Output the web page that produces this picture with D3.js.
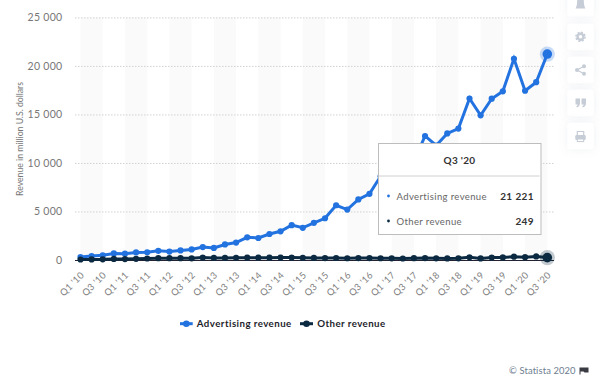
<!DOCTYPE html>
<html><head><meta charset="utf-8">
<script src="https://cdnjs.cloudflare.com/ajax/libs/d3/7.8.5/d3.min.js"></script>
<style>html,body{margin:0;padding:0;background:#fff;overflow:hidden}svg{display:block}text{font-family:Lato,"Open Sans",sans-serif}</style>
</head><body><svg id="c" width="600" height="378"></svg>
<script>
const quarters = ["Q1 '10","Q2 '10","Q3 '10","Q4 '10","Q1 '11","Q2 '11","Q3 '11","Q4 '11","Q1 '12","Q2 '12","Q3 '12","Q4 '12","Q1 '13","Q2 '13","Q3 '13","Q4 '13","Q1 '14","Q2 '14","Q3 '14","Q4 '14","Q1 '15","Q2 '15","Q3 '15","Q4 '15","Q1 '16","Q2 '16","Q3 '16","Q4 '16","Q1 '17","Q2 '17","Q3 '17","Q4 '17","Q1 '18","Q2 '18","Q3 '18","Q4 '18","Q1 '19","Q2 '19","Q3 '19","Q4 '19","Q1 '20","Q2 '20","Q3 '20"];
const advertising = [300,400,480,680,650,780,800,950,870,990,1090,1330,1245,1600,1800,2340,2265,2680,2960,3590,3320,3830,4300,5640,5200,6240,6820,8630,7860,9160,10140,12780,11800,13040,13540,16640,14910,16620,17380,20740,17440,18320,21221];
const other = [50,60,70,110,95,120,155,190,185,190,175,255,215,215,220,240,235,235,245,255,225,215,200,205,180,195,195,180,175,155,185,195,170,160,175,275,165,260,270,345,295,365,249];
const yTicks = [0,5000,10000,15000,20000,25000];
const seriesNames = ["Advertising revenue","Other revenue"];
const colors = ["#2272e0","#0b2a42"];
const tipTitle = "Q3 '20";
const tipValues = ["21 221","249"];

const svg = d3.select("#c");
const x = d3.scalePoint().domain(quarters).range([80.5,547.3]);
const y = d3.scaleLinear().domain([0,25000]).range([260,17.4]);
const fmt = v => d3.format(",")(v).replace(/,/g," ");

// alternating bands
const bands = svg.append("g");
quarters.forEach((q,i)=>{ if(i%4===0 && i+2<quarters.length){
  bands.append("rect").attr("x",x(q)).attr("y",17.4).attr("width",x(quarters[i+2])-x(q)).attr("height",242.6).attr("fill","#fafafa");
}});
// grid
const gy = svg.append("g").attr("transform","translate(75,0)")
  .call(d3.axisLeft(y).tickValues(yTicks).tickSize(-479).tickPadding(12).tickFormat(fmt));
gy.select(".domain").remove();
gy.selectAll(".tick line").attr("stroke","#d2d2d2").attr("stroke-dasharray","1.5,1.5").attr("stroke-width",1);
gy.select(".tick line").attr("stroke","#223").attr("stroke-dasharray",null);
gy.selectAll(".tick text").attr("fill","#777").attr("font-size",10.5).attr("letter-spacing",0.3).attr("x",-12.5);

// x axis
const gx = svg.append("g").attr("transform","translate(0,260)")
  .call(d3.axisBottom(x).tickValues(quarters.filter((q,i)=>i%2===0)).tickSize(0));
gx.select(".domain").remove();
gx.selectAll(".tick text").attr("fill","#808080").attr("font-size",9.3).attr("letter-spacing",0.3)
  .attr("text-anchor","end").attr("dy",0).attr("dx",0).attr("y",0).attr("x",0)
  .attr("transform","translate(2,14) rotate(-45)").attr("dominant-baseline","middle");

// y title
svg.append("text").attr("transform","translate(22.5,139) rotate(-90)").attr("text-anchor","middle")
  .attr("font-size",8.7).attr("fill","#777").text("Revenue in million U.S. dollars");

const line = d3.line().x((d,i)=>x(quarters[i])).y(d=>y(d));
[advertising,other].forEach((s,k)=>{
  const g = svg.append("g");
  g.append("path").attr("d",line(s)).attr("fill","none").attr("stroke",colors[k]).attr("stroke-width",3);
  g.selectAll("circle").data(s).join("circle").attr("cx",(d,i)=>x(quarters[i])).attr("cy",d=>y(d)).attr("r",3.1).attr("fill",colors[k]);
  const last = s.length-1;
  g.append("circle").attr("cx",x(quarters[last])).attr("cy",y(s[last])).attr("r",7.6).attr("fill",colors[k]).attr("opacity",0.25);
  g.append("circle").attr("cx",x(quarters[last])).attr("cy",y(s[last])).attr("r",4.8).attr("fill",colors[k]);
});

// legend
const legendX = [[180,192.7,196.8],[300,313,317.2]];
seriesNames.forEach((n,k)=>{
  const g = svg.append("g");
  g.append("line").attr("x1",legendX[k][0]).attr("x2",legendX[k][1]).attr("y1",323.7).attr("y2",323.7).attr("stroke",colors[k]).attr("stroke-width",3);
  g.append("circle").attr("cx",(legendX[k][0]+legendX[k][1])/2).attr("cy",323.7).attr("r",3.3).attr("fill",colors[k]);
  g.append("text").attr("x",legendX[k][2]).attr("y",327).attr("font-size",9.7).attr("font-weight",700).attr("letter-spacing",0.45).attr("fill","#1d1d2b").text(n);
});

// tooltip
const tip = svg.append("g").attr("transform","translate(378.5,143.5)");
tip.append("rect").attr("width",162.5).attr("height",91).attr("fill","#fff").attr("stroke","#bdbdbd");
tip.append("line").attr("x1",0.5).attr("x2",161).attr("y1",32.5).attr("y2",32.5).attr("stroke","#d0d0d0");
tip.append("text").attr("x",81).attr("y",20).attr("text-anchor","middle").attr("font-size",10).attr("font-weight",700).attr("letter-spacing",0.3).attr("fill","#333").text(tipTitle);
seriesNames.forEach((n,k)=>{
  const yy = 53+k*25;
  tip.append("circle").attr("cx",10).attr("cy",yy-0.5).attr("r",1.4).attr("fill",colors[k]);
  tip.append("text").attr("x",18).attr("y",yy+3).attr("font-size",9.5).attr("letter-spacing",0.38).attr("fill","#666").text(n);
  tip.append("text").attr("x",155.5).attr("y",yy+3).attr("text-anchor","end").attr("font-size",10).attr("font-weight",700).attr("letter-spacing",0.4).attr("fill","#333").text(tipValues[k]);
});

// side buttons
const defs = svg.append("defs");
const f = defs.append("filter").attr("id","sh").attr("x","-60%").attr("y","-60%").attr("width","220%").attr("height","220%");
f.append("feDropShadow").attr("dx",0).attr("dy",0).attr("stdDeviation",4).attr("flood-color","#8090a0").attr("flood-opacity",0.13);
const icon = "#c6cdd6";
const tops = [-10,23.7,56.7,89.7,122.7];
tops.forEach(t=>svg.append("rect").attr("x",567.3).attr("y",t).attr("width",26.5).attr("height",26.5).attr("rx",3).attr("fill","#fff").attr("filter","url(#sh)"));
const cx = 580.5;
// bell
svg.append("path").attr("d",`M${cx-5} 8.5 C${cx-3} 6 ${cx-3.5} 0 ${cx-3} -3 L${cx+3} -3 C${cx+3.5} 0 ${cx+3} 6 ${cx+5} 8.5 Z`).attr("fill",icon);
// gear
svg.append("circle").attr("cx",cx).attr("cy",36.8).attr("r",3).attr("fill","none").attr("stroke",icon).attr("stroke-width",2.4);
svg.append("circle").attr("cx",cx).attr("cy",36.8).attr("r",4.6).attr("fill","none").attr("stroke",icon).attr("stroke-width",1.4).attr("stroke-dasharray","2,1.6");
// share
const sp=[[cx+3.5,66.3],[cx-3.5,70],[cx+3.5,73.7]];
svg.append("path").attr("d",d3.line()(sp)).attr("fill","none").attr("stroke",icon).attr("stroke-width",1.2);
sp.forEach(p=>svg.append("circle").attr("cx",p[0]).attr("cy",p[1]).attr("r",2).attr("fill",icon));
// quotes
[-5,1].forEach(d=>svg.append("path").attr("d",`M${cx+d} 98.5 h4.5 v4.5 q0 3 -3 4.5 l-0.8 -1 q1.4 -0.8 1.5 -2 h-2.2 Z`).attr("fill",icon));
// printer
svg.append("path").attr("d",`M${cx-3.2} 135.5 v-4 h6.4 v4`).attr("fill","none").attr("stroke",icon).attr("stroke-width",1.2);
svg.append("rect").attr("x",cx-5.2).attr("y",135).attr("width",10.4).attr("height",5).attr("rx",1.2).attr("fill",icon);
svg.append("rect").attr("x",cx-3.2).attr("y",139).attr("width",6.4).attr("height",2.6).attr("fill","#fff").attr("stroke",icon).attr("stroke-width",1);

// credit
svg.append("text").attr("x",509).attr("y",373.5).attr("font-size",9.4).attr("letter-spacing",0.12).attr("fill","#6d7d8f").text("© Statista 2020");
svg.append("path").attr("d","M579.5 367.5 h9 v5 h-4 l-1 -1 h-3 v3 h-1 Z").attr("fill","#3a3a42");
</script></body></html>
